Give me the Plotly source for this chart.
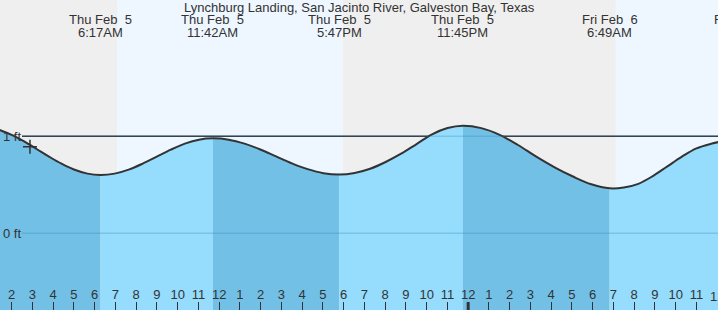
import plotly.graph_objects as go

# ---------------- data ----------------
# hours since midnight Thu Feb 5, heights in ft
tide_times = [1.4, 2.0, 2.6, 3.2, 3.8, 4.4, 5.0, 5.65, 6.283,
              6.960, 7.637, 8.315, 8.992, 9.669, 10.346, 11.023, 11.7,
              12.460, 13.221, 13.981, 14.742, 15.502, 16.262, 17.023, 17.783,
              18.529, 19.275, 20.021, 20.767, 21.512, 22.258, 23.004, 23.75,
              24.633, 25.517, 26.400, 27.283, 28.167, 29.050, 29.934, 30.817,
              31.5, 32.2, 32.9, 33.6, 34.3, 35.0, 35.75, 36.5]
tide_ft = [1.067, 1.014, 0.947, 0.869, 0.790, 0.717, 0.657, 0.615, 0.601,
           0.615, 0.656, 0.718, 0.790, 0.862, 0.924, 0.965, 0.979,
           0.965, 0.924, 0.864, 0.792, 0.721, 0.661, 0.620, 0.606,
           0.622, 0.665, 0.735, 0.820, 0.920, 1.020, 1.085, 1.109,
           1.084, 1.015, 0.910, 0.790, 0.680, 0.585, 0.505, 0.464,
           0.472, 0.510, 0.590, 0.690, 0.790, 0.875, 0.925, 0.960]

extreme_times = [6.283, 11.7, 17.783, 23.75, 30.817, 37.2]
extreme_days = ["Thu Feb\u00a0 5", "Thu Feb\u00a0 5", "Thu Feb\u00a0 5", "Thu Feb\u00a0 5",
                "Fri Feb\u00a0 6", "Fri Feb\u00a0 6"]
extreme_clock = ["6:17AM", "11:42AM", "5:47PM", "11:45PM", "6:49AM", "1:12PM"]

sunrise_times = [7.075, 31.1]
sunset_times = [17.98]

now_time = 2.88
now_ft = 0.893

hour_ticks = list(range(2, 37))
hour_labels = [str((h - 1) % 12 + 1) for h in hour_ticks]

title_text = "Lynchburg Landing, San Jacinto River, Galveston Bay, Texas"
ref_levels = [0, 1]
ref_labels = ["0 ft", "1 ft"]

X_RANGE = [1.436, 36.04]
Y_RANGE = [-0.791, 2.405]

# ---------------- styles ----------------
FONT = "Liberation Sans, Arial, sans-serif"
FS = 13
TXT = "#333333"
NIGHT = "#efefef"
DAY = "#eef7ff"
FALL = "#72c0e5"
RISE = "#95dcfd"
H = 310
SMOOTH = 1

fig = go.Figure()

# segment fills between extremes
bounds = [tide_times[0]] + [t for t in extreme_times if tide_times[0] < t < tide_times[-1]] + [tide_times[-1]]
for a, b in zip(bounds[:-1], bounds[1:]):
    xs = [t for t in tide_times if a <= t <= b]
    ys = [v for t, v in zip(tide_times, tide_ft) if a <= t <= b]
    color = RISE if ys[-1] > ys[0] else FALL
    fig.add_trace(go.Scatter(x=[a, b], y=[Y_RANGE[0], Y_RANGE[0]], mode="lines",
                             line=dict(width=0), hoverinfo="skip", showlegend=False))
    fig.add_trace(go.Scatter(x=xs, y=ys, mode="lines", fill="tonexty", fillcolor=color,
                             line=dict(width=0, shape="spline", smoothing=SMOOTH),
                             hoverinfo="skip", showlegend=False))

# tide curve
fig.add_trace(go.Scatter(x=tide_times, y=tide_ft, mode="lines",
                         line=dict(color="#333333", width=2, shape="spline", smoothing=SMOOTH),
                         showlegend=False))

# current marker
fig.add_trace(go.Scatter(x=[now_time], y=[now_ft], mode="markers",
                         marker=dict(symbol="cross-thin", size=10,
                                     line=dict(color="#333333", width=1.5)),
                         showlegend=False))

shapes = []
# night / day backgrounds
edges = [X_RANGE[0] - 1] + sorted(sunrise_times + sunset_times) + [X_RANGE[1] + 1]
is_day = False
for a, b in zip(edges[:-1], edges[1:]):
    shapes.append(dict(type="rect", xref="x", yref="paper", x0=a, x1=b, y0=0, y1=1,
                       fillcolor=DAY if is_day else NIGHT, line=dict(width=0), layer="below"))
    is_day = not is_day

# reference lines
for lvl in ref_levels:
    if lvl == 1:
        shapes.append(dict(type="line", xref="paper", yref="y", x0=22 / 718, x1=1, y0=lvl, y1=lvl,
                           line=dict(color="#333333", width=1.5), layer="below"))
    shapes.append(dict(type="line", xref="paper", yref="y", x0=22 / 718, x1=1, y0=lvl, y1=lvl,
                       line=dict(color="rgba(40,120,175,0.25)", width=1.5), layer="above"))

# midnight thick tick
shapes.append(dict(type="line", xref="x", yref="paper", x0=24, x1=24, y0=0, y1=8 / H,
                   line=dict(color="#333333", width=3), layer="above"))

annotations = [dict(text=title_text, xref="paper", yref="paper", x=0.5, y=1 - 8 / H,
                    xanchor="center", yanchor="middle", showarrow=False,
                    font=dict(family=FONT, size=FS, color=TXT))]
for t, d, c in zip(extreme_times, extreme_days, extreme_clock):
    if X_RANGE[0] <= t <= X_RANGE[1]:
        xr, xv = "x", t
    else:
        xr, xv = "paper", (t - X_RANGE[0]) / (X_RANGE[1] - X_RANGE[0])
    annotations.append(dict(text=d, xref=xr, yref="paper", x=xv, y=1 - 20 / H,
                            xanchor="center", yanchor="middle", showarrow=False,
                            font=dict(family=FONT, size=FS, color=TXT)))
    annotations.append(dict(text=c, xref=xr, yref="paper", x=xv, y=1 - 32 / H,
                            xanchor="center", yanchor="middle", showarrow=False,
                            font=dict(family=FONT, size=FS, color=TXT)))
for lvl, lab in zip(ref_levels, ref_labels):
    annotations.append(dict(text=lab, xref="paper", yref="y", x=0, y=lvl, xshift=1,
                            xanchor="left", yanchor="middle", showarrow=False,
                            font=dict(family=FONT, size=FS, color=TXT)))

# last hour label at the right edge (plotly hides clipped inside tick labels)
annotations.append(dict(text=hour_labels[-1], xref="x", yref="paper", x=hour_ticks[-1],
                        y=(H - 296) / H, xanchor="center", yanchor="middle", showarrow=False,
                        font=dict(family=FONT, size=FS, color=TXT)))

fig.update_layout(
    width=718, height=310, margin=dict(l=0, r=0, t=0, b=0),
    paper_bgcolor="white", plot_bgcolor=NIGHT,
    shapes=shapes, annotations=annotations, showlegend=False,
    xaxis=dict(range=X_RANGE, tickvals=hour_ticks, ticktext=hour_labels,
               ticks="inside", ticklen=8, tickwidth=1, tickcolor="#333333",
               ticklabelposition="inside", showgrid=False, zeroline=False, showline=False,
               tickfont=dict(family=FONT, size=FS, color=TXT), fixedrange=True),
    yaxis=dict(range=Y_RANGE, visible=False, showgrid=False, zeroline=False, fixedrange=True),
)

fig.write_html("out.html")
